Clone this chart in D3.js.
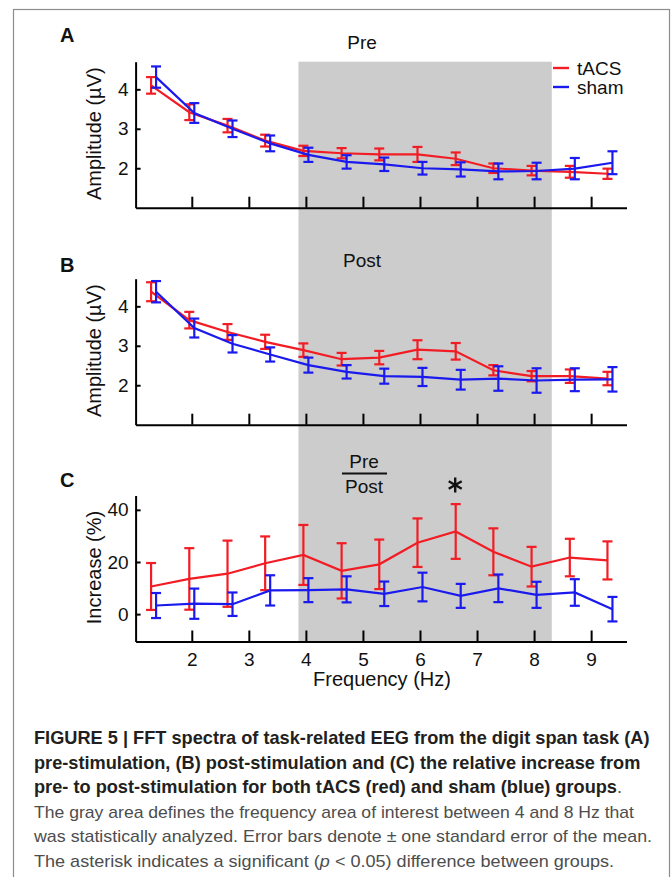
<!DOCTYPE html>
<html>
<head>
<meta charset="utf-8">
<script src="https://cdn.jsdelivr.net/npm/d3@7/dist/d3.min.js"></script>
<style>
  body { margin: 0; background: #fff; }
  svg text { font-family: "Liberation Sans", Arial, Helvetica, sans-serif; }
</style>
</head>
<body>
<div id="figure"></div>
<script>
// frequency bins (Hz)
var freqs = [1.33, 2, 2.67, 3.33, 4, 4.67, 5.33, 6, 6.67, 7.33, 8, 8.67, 9.33];
var xTicks = [2, 3, 4, 5, 6, 7, 8, 9];
var ampTicks = [2, 3, 4];
var incTicks = [0, 20, 40];
var bandHz = [3.87, 8.31];   // grey area of interest
var starIndex = 8;           // significant bin

// A: pre-stimulation amplitude (uV)
var preTacs     = [4.10, 3.42, 3.08, 2.70, 2.44, 2.38, 2.35, 2.35, 2.24, 2.00, 1.94, 1.91, 1.86];
var preTacsErr  = [0.21, 0.20, 0.17, 0.15, 0.13, 0.13, 0.15, 0.19, 0.16, 0.12, 0.12, 0.15, 0.13];
var preSham     = [4.31, 3.40, 3.00, 2.63, 2.34, 2.16, 2.10, 2.00, 1.97, 1.92, 1.93, 1.99, 2.14];
var preShamErr  = [0.27, 0.25, 0.21, 0.20, 0.18, 0.17, 0.17, 0.16, 0.18, 0.20, 0.21, 0.27, 0.29];

// B: post-stimulation amplitude (uV)
var postTacs    = [4.37, 3.65, 3.35, 3.10, 2.89, 2.66, 2.70, 2.90, 2.86, 2.38, 2.23, 2.23, 2.17];
var postTacsErr = [0.24, 0.21, 0.20, 0.18, 0.17, 0.16, 0.17, 0.24, 0.21, 0.13, 0.13, 0.17, 0.17];
var postSham    = [4.37, 3.45, 3.05, 2.78, 2.51, 2.34, 2.23, 2.21, 2.14, 2.17, 2.12, 2.14, 2.15];
var postShamErr = [0.27, 0.24, 0.22, 0.18, 0.19, 0.17, 0.19, 0.23, 0.25, 0.31, 0.31, 0.29, 0.31];

// C: relative increase (%)
var incTacs     = [10.6, 13.5, 15.5, 19.5, 22.7, 16.6, 19.1, 27.4, 31.7, 23.9, 18.2, 21.7, 20.6];
var incTacsErr  = [9.0, 11.8, 12.7, 10.3, 11.5, 10.6, 9.5, 9.3, 10.5, 9.0, 7.6, 7.2, 7.3];
var incSham     = [3.3, 4.0, 3.8, 9.1, 9.2, 9.5, 7.8, 10.4, 7.0, 9.9, 7.4, 8.3, 1.9];
var incShamErr  = [4.8, 5.8, 4.5, 5.8, 4.6, 5.0, 4.7, 5.5, 4.6, 5.3, 5.0, 5.1, 4.7];

var red = "#f21c24";
var blue = "#1a1aee";

var width = 672;
var height = 877;

var svg = d3.select("#figure").append("svg")
    .attr("width", width)
    .attr("height", height);

// grey frame round the figure
svg.append("rect")
    .attr("x", 13.5).attr("y", 9.5)
    .attr("width", 656).attr("height", 900)
    .style("fill", "none")
    .style("stroke", "#8c8c8c")
    .style("stroke-width", 1.2);

var x = d3.scaleLinear().domain([1.015, 9.62]).range([135.6, 626.5]);

var panels = [
  {label: "A", top: 61.7, domain: [1, 4.7], ticks: ampTicks, title: "Amplitude (\u00b5V)",
   tacs: preTacs, tacsErr: preTacsErr, sham: preSham, shamErr: preShamErr, labelY: 42},
  {label: "B", top: 278.7, domain: [1, 4.7], ticks: ampTicks, title: "Amplitude (\u00b5V)",
   tacs: postTacs, tacsErr: postTacsErr, sham: postSham, shamErr: postShamErr, labelY: 272},
  {label: "C", top: 495.5, domain: [-10.5, 45.5], ticks: incTicks, title: "Increase (%)",
   tacs: incTacs, tacsErr: incTacsErr, sham: incSham, shamErr: incShamErr, labelY: 487}
];
var panelH = 146;

// grey band spans all three panels
svg.append("rect")
    .attr("x", x(bandHz[0]))
    .attr("y", panels[0].top)
    .attr("width", x(bandHz[1]) - x(bandHz[0]))
    .attr("height", panels[2].top + panelH - panels[0].top)
    .style("fill", "#cccccc");

panels.forEach(function(p, pi) {
  var y = d3.scaleLinear().domain(p.domain).range([p.top + panelH, p.top]);

  //axes
  var yAxis = d3.axisLeft(y).tickValues(p.ticks).tickFormat(d3.format("d"))
      .tickSizeInner(-5).tickSizeOuter(0).tickPadding(7);
  var xAxis = d3.axisBottom(x).tickValues(xTicks).tickFormat(d3.format("d"))
      .tickSizeInner(-11).tickSizeOuter(0).tickPadding(11);
  if (pi < 2) xAxis.tickFormat("");

  var gy = svg.append("g").attr("transform", "translate(" + x.range()[0] + ",0)").call(yAxis);
  var gx = svg.append("g").attr("transform", "translate(0," + (p.top + panelH) + ")").call(xAxis);
  [gx, gy].forEach(function(g) {
    g.select(".domain").style("stroke", "#000").style("stroke-width", 2);
    g.selectAll(".tick line").style("stroke", "#000").style("stroke-width", 2);
    g.selectAll(".tick text").style("font-size", "19px").style("fill", "#111")
      .style("font-family", "'Liberation Sans', Arial, sans-serif");
  });

  // y title
  svg.append("text")
      .attr("transform", "translate(101," + (p.top + panelH / 2 - 1) + ") rotate(-90)")
      .attr("text-anchor", "middle")
      .style("font-size", "20px")
      .style("fill", "#111")
      .text(p.title);

  // panel letter
  svg.append("text")
      .attr("x", 60).attr("y", p.labelY)
      .style("font-size", "20px").style("font-weight", "bold")
      .style("fill", "#111")
      .text(p.label);

  drawSeries(p.tacs, p.tacsErr, y, red, -2.5);
  drawSeries(p.sham, p.shamErr, y, blue, 2.5);
});

function drawSeries(vals, errs, y, color, dx) {
  var pts = vals.map(function(v, i) { return {f: freqs[i], v: v, e: errs[i]}; });
  var line = d3.line()
      .x(function(d) { return x(d.f) + dx; })
      .y(function(d) { return y(d.v); });
  svg.append("path")
      .datum(pts)
      .attr("d", line)
      .style("fill", "none")
      .style("stroke", color)
      .style("stroke-width", 2.2);

  var bars = svg.append("g").selectAll("g")
      .data(pts)
      .enter().append("g")
      .style("stroke", color)
      .style("stroke-width", 2.2);
  bars.append("line")
      .attr("x1", function(d) { return x(d.f) + dx; })
      .attr("x2", function(d) { return x(d.f) + dx; })
      .attr("y1", function(d) { return y(d.v - d.e); })
      .attr("y2", function(d) { return y(d.v + d.e); });
  [-1, 1].forEach(function(s) {
    bars.append("line")
        .attr("x1", function(d) { return x(d.f) + dx - 5; })
        .attr("x2", function(d) { return x(d.f) + dx + 5; })
        .attr("y1", function(d) { return y(d.v + s * d.e); })
        .attr("y2", function(d) { return y(d.v + s * d.e); });
  });
}

// panel titles
svg.append("text").attr("x", 362).attr("y", 49).attr("text-anchor", "middle")
    .style("font-size", "19px").style("fill", "#111").text("Pre");
svg.append("text").attr("x", 362).attr("y", 267).attr("text-anchor", "middle")
    .style("font-size", "19px").style("fill", "#111").text("Post");
svg.append("text").attr("x", 364).attr("y", 468).attr("text-anchor", "middle")
    .style("font-size", "19px").style("fill", "#111").text("Pre");
svg.append("line").attr("x1", 342).attr("x2", 387).attr("y1", 473.5).attr("y2", 473.5)
    .style("stroke", "#111").style("stroke-width", 1.8);
svg.append("text").attr("x", 364).attr("y", 492.5).attr("text-anchor", "middle")
    .style("font-size", "19px").style("fill", "#111").text("Post");

// x title
svg.append("text").attr("x", 382).attr("y", 686).attr("text-anchor", "middle")
    .style("font-size", "20px").style("fill", "#111").text("Frequency (Hz)");

// asterisk above the significant bin
var sx = x(freqs[starIndex]) - 3, sy = 485, r = 7.5;
[90, 30, -30].forEach(function(a) {
  var rad = a * Math.PI / 180;
  svg.append("line")
      .attr("x1", sx - r * Math.cos(rad)).attr("y1", sy - r * Math.sin(rad))
      .attr("x2", sx + r * Math.cos(rad)).attr("y2", sy + r * Math.sin(rad))
      .style("stroke", "#111").style("stroke-width", 2.4);
});

// legend
var legend = [{name: "tACS", color: red}, {name: "sham", color: blue}];
var lg = svg.append("g").selectAll("g").data(legend).enter().append("g")
    .attr("transform", function(d, i) { return "translate(553," + (68 + i * 19) + ")"; });
lg.append("line").attr("x1", 0).attr("x2", 16)
    .style("stroke", function(d) { return d.color; }).style("stroke-width", 2.4);
lg.append("text").attr("x", 24).attr("y", 7)
    .style("font-size", "19px").style("fill", "#111")
    .text(function(d) { return d.name; });

// caption
var cap = svg.append("g").attr("transform", "translate(34,0)");
var boldLines = [
  "FIGURE 5 | FFT spectra of task-related EEG from the digit span task (A)",
  "pre-stimulation, (B) post-stimulation and (C) the relative increase from",
  "pre- to post-stimulation for both tACS (red) and sham (blue) groups"
];
boldLines.forEach(function(t, i) {
  var tx = cap.append("text").attr("x", 0).attr("y", 744 + i * 24.5)
      .style("font-size", "18.2px").style("font-weight", "bold").style("fill", "#231f20");
  tx.append("tspan").text(t);
  if (i == 2) tx.append("tspan").style("font-weight", "normal").style("fill", "#4d4d4d").text(".");
});

var l4 = cap.append("text").attr("x", 0).attr("y", 817.5)
    .style("font-size", "17px").style("fill", "#4d4d4d")
    .text("The gray area defines the frequency area of interest between 4 and 8 Hz that");
var l5 = cap.append("text").attr("x", 0).attr("y", 842)
    .style("font-size", "17px").style("fill", "#4d4d4d")
    .text("was statistically analyzed. Error bars denote \u00b1 one standard error of the mean.");
var l6 = cap.append("text").attr("x", 0).attr("y", 866.5)
    .style("font-size", "17px").style("fill", "#4d4d4d");
l6.append("tspan").text("The asterisk indicates a significant (");
l6.append("tspan").style("font-style", "italic").text("p");
l6.append("tspan").text(" < 0.05) difference between groups.");

// squeeze regular lines to the widths in the figure
[[l4, 600], [l5, 618], [l6, 580]].forEach(function(a) {
  a[0].attr("textLength", a[1]).attr("lengthAdjust", "spacingAndGlyphs");
});
</script>
</body>
</html>
